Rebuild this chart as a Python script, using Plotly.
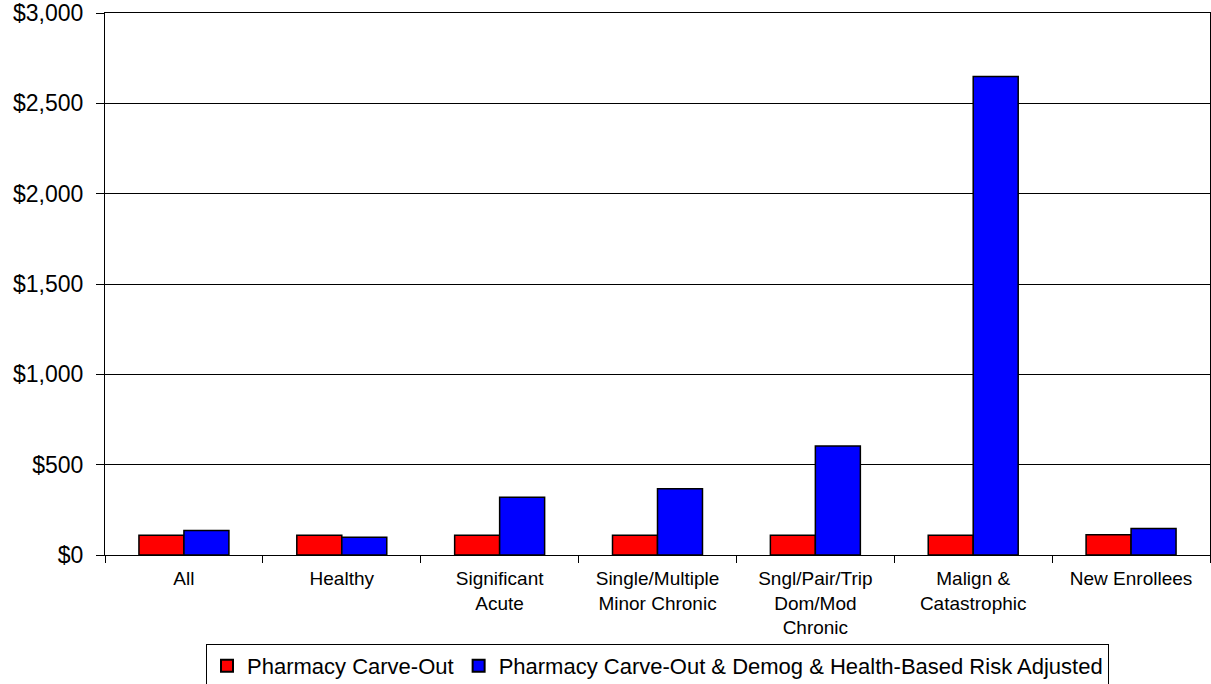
import plotly.graph_objects as go

categories = ["All", "Healthy", "Significant<br>Acute", "Single/Multiple<br>Minor Chronic",
              "Sngl/Pair/Trip<br>Dom/Mod<br>Chronic", "Malign &<br>Catastrophic", "New Enrollees"]
carve_out = [110, 110, 110, 110, 110, 110, 112]
risk_adjusted = [135, 98, 319, 367, 603, 2648, 146]
series_names = ["Pharmacy Carve-Out", "Pharmacy Carve-Out & Demog & Health-Based Risk Adjusted"]
y_ticks = [0, 500, 1000, 1500, 2000, 2500, 3000]
y_tick_labels = ["$0", "$500", "$1,000", "$1,500", "$2,000", "$2,500", "$3,000"]

FONT = "Liberation Sans, Arial, sans-serif"

fig = go.Figure()
fig.add_trace(go.Bar(x=categories, y=carve_out, name=series_names[0],
                     marker=dict(color="#FF0000", line=dict(color="#000000", width=1.5))))
fig.add_trace(go.Bar(x=categories, y=risk_adjusted, name=series_names[1],
                     marker=dict(color="#0000FF", line=dict(color="#000000", width=1.5))))

fig.update_layout(
    width=1211, height=684,
    margin=dict(l=105, r=1, t=13, b=129, autoexpand=False),
    paper_bgcolor="white", plot_bgcolor="white",
    barmode="group", bargap=0.43, bargroupgap=0,
    font=dict(family=FONT, color="black", size=19),
    showlegend=True,
    legend=dict(orientation="h", x=0.5, xanchor="center", y=-0.164, yanchor="top",
                bordercolor="black", borderwidth=1, font=dict(size=22, family=FONT),
                traceorder="normal", itemsizing="constant", tracegroupgap=0),
)
fig.update_xaxes(
    showline=True, linecolor="black", linewidth=1, mirror=True,
    ticks="outside", tickson="boundaries", ticklen=7, tickcolor="black",
    tickfont=dict(size=19, family=FONT), showgrid=False, ticklabelstandoff=6,
)
fig.update_yaxes(
    range=[0, 3000], tickvals=y_ticks, ticktext=y_tick_labels,
    showline=True, linecolor="black", linewidth=1, mirror=True,
    ticks="outside", ticklen=8, tickcolor="black",
    tickfont=dict(size=23, family=FONT), ticklabelstandoff=8,
    showgrid=True, gridcolor="black", gridwidth=1, zeroline=False,
)

fig.write_html("out.html")
